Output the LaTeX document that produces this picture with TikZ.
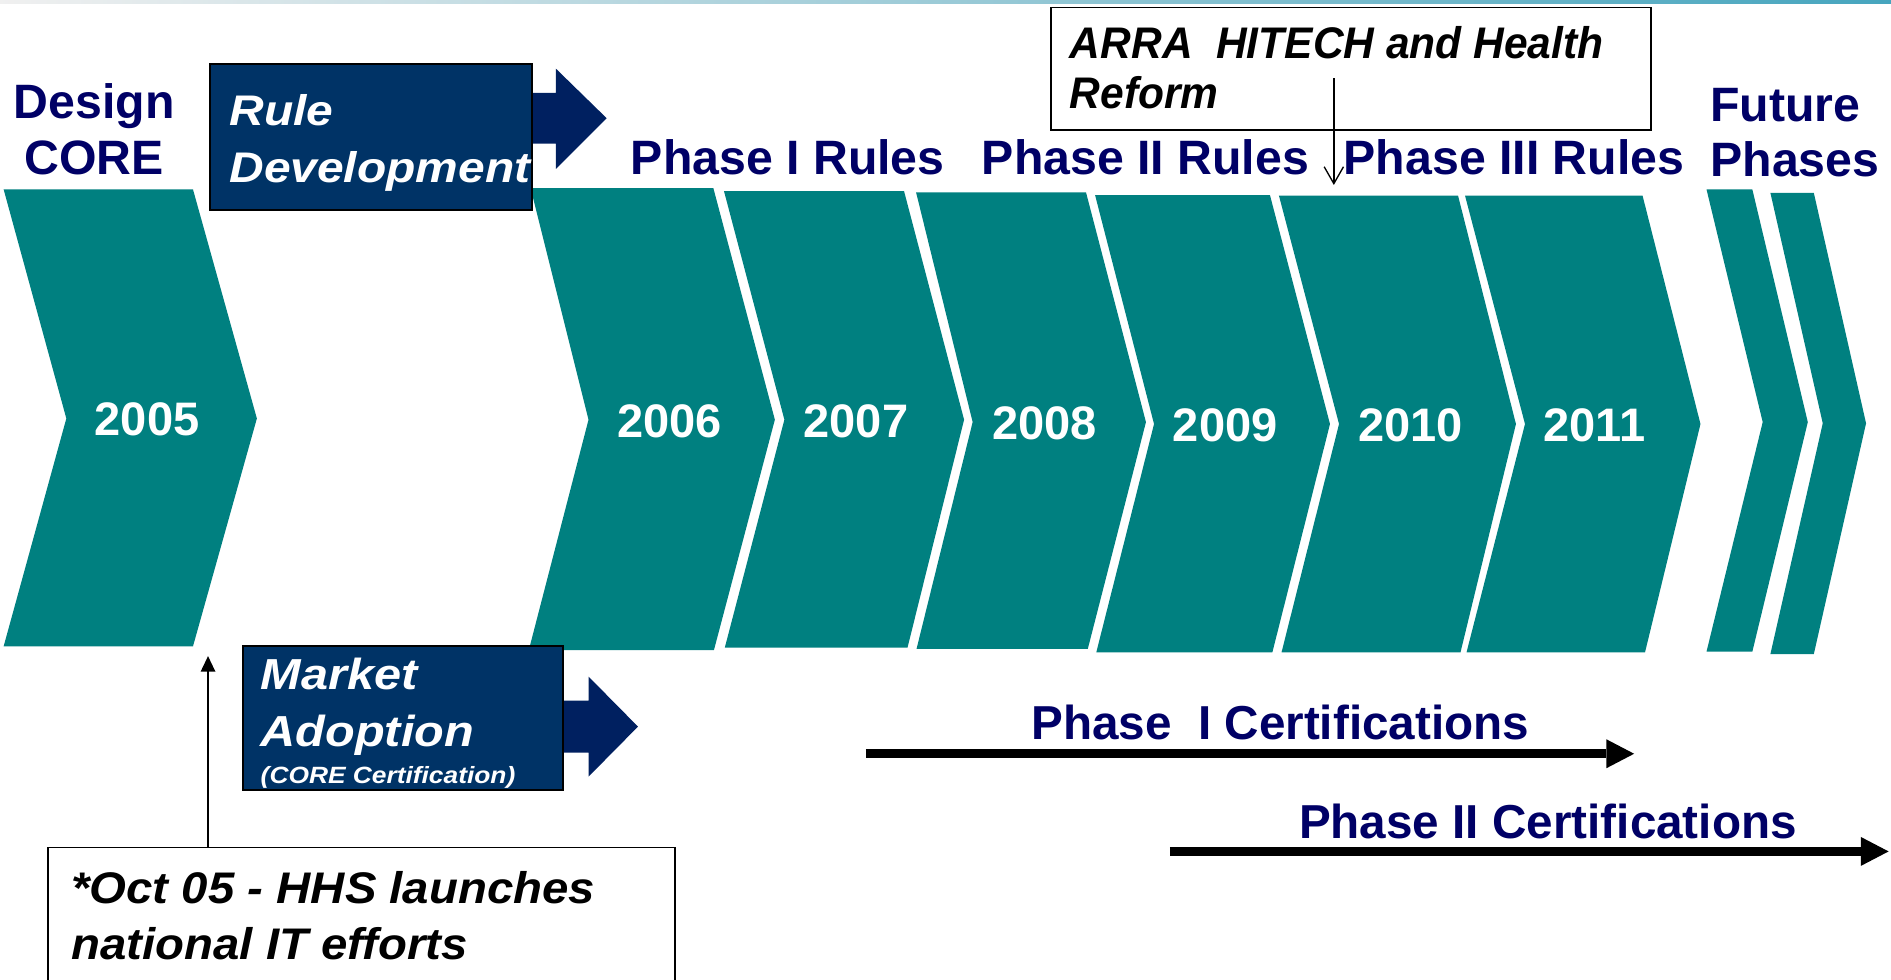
\documentclass[tikz,border=0pt]{standalone}
\usepackage{fontspec}
\setmainfont{Liberation Sans}
\newfontfamily\wfont[FakeStretch=1.12]{Liberation Sans}
\newfontfamily\hfont[FakeStretch=1.07]{Liberation Sans}
\newfontfamily\afont[FakeStretch=0.96]{Liberation Sans}
\usetikzlibrary{arrows.meta}
\definecolor{teal1}{RGB}{0,128,128}
\definecolor{navytxt}{RGB}{0,0,102}
\definecolor{boxblue}{RGB}{0,51,102}
\definecolor{arrblue}{RGB}{0,32,96}
\definecolor{topline}{RGB}{70,165,190}
\begin{document}
\begin{tikzpicture}[x=1pt,y=-1pt,
  chev/.style={fill=teal1},
  lbl/.style={inner sep=0pt, anchor=base west, text=navytxt, font=\fontsize{40}{48}\selectfont\bfseries},
  certlbl/.style={inner sep=0pt, anchor=base west, text=navytxt, font=\fontsize{39.5}{47}\selectfont\bfseries},
  yr/.style={inner sep=0pt, anchor=base, text=white, font=\fontsize{39}{46}\selectfont\bfseries},
  darkbox/.style={draw=black, line width=1.6pt, fill=boxblue, inner sep=0pt, anchor=north west},
  wtxt/.style={inner sep=0pt, anchor=base west, text=white},
  notebox/.style={draw=black, line width=1.5pt, fill=white, inner sep=0pt, anchor=north west},
  btxt/.style={inner sep=0pt, anchor=base west, text=black},
  blockarrow/.style={fill=arrblue},
  certarrow/.style={draw=black, line width=7.7pt, -{Triangle[length=23pt,width=24pt,line width=0pt]}},
]
\useasboundingbox (0,0) rectangle (1568,812.6);
\fill[white] (0,0) rectangle (1568,812.6);
\shade[left color=white!88!gray, right color=topline] (0,0) rectangle (1568,2.5);

% chevrons
\fill[chev] (3,157) -- (160,157) -- (213,347) -- (160,536) -- (3,536) -- (55,347) -- cycle;
\fill[chev] (440,156) -- (591.5,156) -- (642.5,348) -- (592,539) -- (438.5,539) -- (488,348) -- cycle;
\fill[chev] (600.3,158.4) -- (749.6,158.4) -- (799.4,348) -- (752.5,537) -- (601,537) -- (650.4,348) -- cycle;
\fill[chev] (759.6,159.5) -- (900.5,159.5) -- (950.2,350) -- (902,538) -- (760,538) -- (806.5,350) -- cycle;
\fill[chev] (908,161.7) -- (1053,161.7) -- (1102.8,351.6) -- (1055,541) -- (909,541) -- (956.9,351.6) -- cycle;
\fill[chev] (1060.5,162.3) -- (1209,162.3) -- (1257,351.6) -- (1211,541) -- (1062.6,541) -- (1110.3,351.6) -- cycle;
\fill[chev] (1214.8,162.3) -- (1362,162.3) -- (1410,351.6) -- (1364,541) -- (1216,541) -- (1264.5,351.6) -- cycle;
\fill[chev] (1415,157) -- (1453,157) -- (1499,350) -- (1453,540.4) -- (1415,540.4) -- (1461.6,350) -- cycle;
\fill[chev] (1468,160) -- (1504,160) -- (1547.3,351) -- (1504,542.3) -- (1468,542.3) -- (1511.4,351) -- cycle;

% years
\node[yr] (y2005) at (122,361) {2005};
\node[yr] (y2006) at (555.3,363) {2006};
\node[yr] (y2007) at (709.7,363) {2007};
\node[yr] (y2008) at (866,364.5) {2008};
\node[yr] (y2009) at (1016,366) {2009};
\node[yr] (y2010) at (1169.6,366) {2010};
\node[yr] (y2011) at (1322,366) {2011};

% phase labels
\node[lbl, anchor=base] (des) at (78,98) {Design};
\node[lbl, anchor=base] (core) at (78,145) {CORE};
\node[lbl] (p1) at (523,145) {Phase I Rules};
\node[lbl] (p2) at (814,145) {Phase II Rules};
\node[lbl] (p3) at (1114,145) {Phase III Rules};
\node[lbl] (fut) at (1418,101) {Future};
\node[lbl] (fph) at (1418,146) {Phases};

% rule development
\fill[blockarrow] (430,77) -- (461,77) -- (461,57) -- (503,98) -- (461,140) -- (461,119) -- (430,119) -- cycle;
\node[darkbox, minimum width=267pt, minimum height=121pt] (rule) at (173,52) {};
\node[wtxt, font=\wfont\fontsize{35.5}{42}\selectfont\bfseries\itshape] (rule1) at (190,104) {Rule};
\node[wtxt, font=\wfont\fontsize{35.5}{42}\selectfont\bfseries\itshape] (rule2) at (190,151) {Development};

% market adoption
\fill[blockarrow] (455,581) -- (488,581) -- (488,561) -- (529,602.5) -- (488,644) -- (488,624) -- (455,624) -- cycle;
\node[darkbox, minimum width=265.5pt, minimum height=120pt] (mkt) at (200.5,534.5) {};
\node[wtxt, font=\wfont\fontsize{36}{42}\selectfont\bfseries\itshape] (mkt1) at (216,572) {Market};
\node[wtxt, font=\wfont\fontsize{36}{42}\selectfont\bfseries\itshape] (mkt2) at (216,619) {Adoption};
\node[wtxt, font=\wfont\fontsize{19.5}{23}\selectfont\bfseries\itshape] (mkt3) at (216,649.5) {(CORE Certification)};

% HHS note
\node[notebox, minimum width=520pt, minimum height=140pt] (hhs) at (39,702) {};
\node[btxt, font=\hfont\fontsize{36.7}{44}\selectfont\bfseries\itshape] (hhs1) at (59,749) {*Oct 05 - HHS launches};
\node[btxt, font=\hfont\fontsize{36.7}{44}\selectfont\bfseries\itshape] (hhs2) at (59,796) {national IT efforts};
\coordinate (c05) at (172.5,544);
\draw[line width=1.4pt, -{Triangle[length=13pt,width=12pt]}] (hhs.north -| c05) -- (c05);

% ARRA note
\node[notebox, minimum width=497pt, minimum height=101.5pt] (arra) at (871,5.5) {};
\node[btxt, font=\afont\fontsize{36.7}{44}\selectfont\bfseries\itshape] (arra1) at (887,48.4) {ARRA\ \ HITECH and Health};
\node[btxt, font=\afont\fontsize{36.7}{44}\selectfont\bfseries\itshape] (arra2) at (887,89.8) {Reform};
\coordinate (arraS) at (1106,65);
\coordinate (arraE) at (1106,153.4);
\draw[line width=1.1pt, -{Straight Barb[length=14pt,width=16pt]}] (arraS) -- (arraE);

% certifications
\node[certlbl] (cert1) at (855,613) {Phase\ \ I Certifications};
\coordinate (a1s) at (718,625);
\coordinate (a1e) at (1355,625);
\draw[certarrow] (a1s) -- (a1e);
\node[certlbl] (cert2) at (1077,695) {Phase II Certifications};
\coordinate (a2s) at (970,706);
\coordinate (a2e) at (1566,706);
\draw[certarrow] (a2s) -- (a2e);
\end{tikzpicture}
\end{document}
